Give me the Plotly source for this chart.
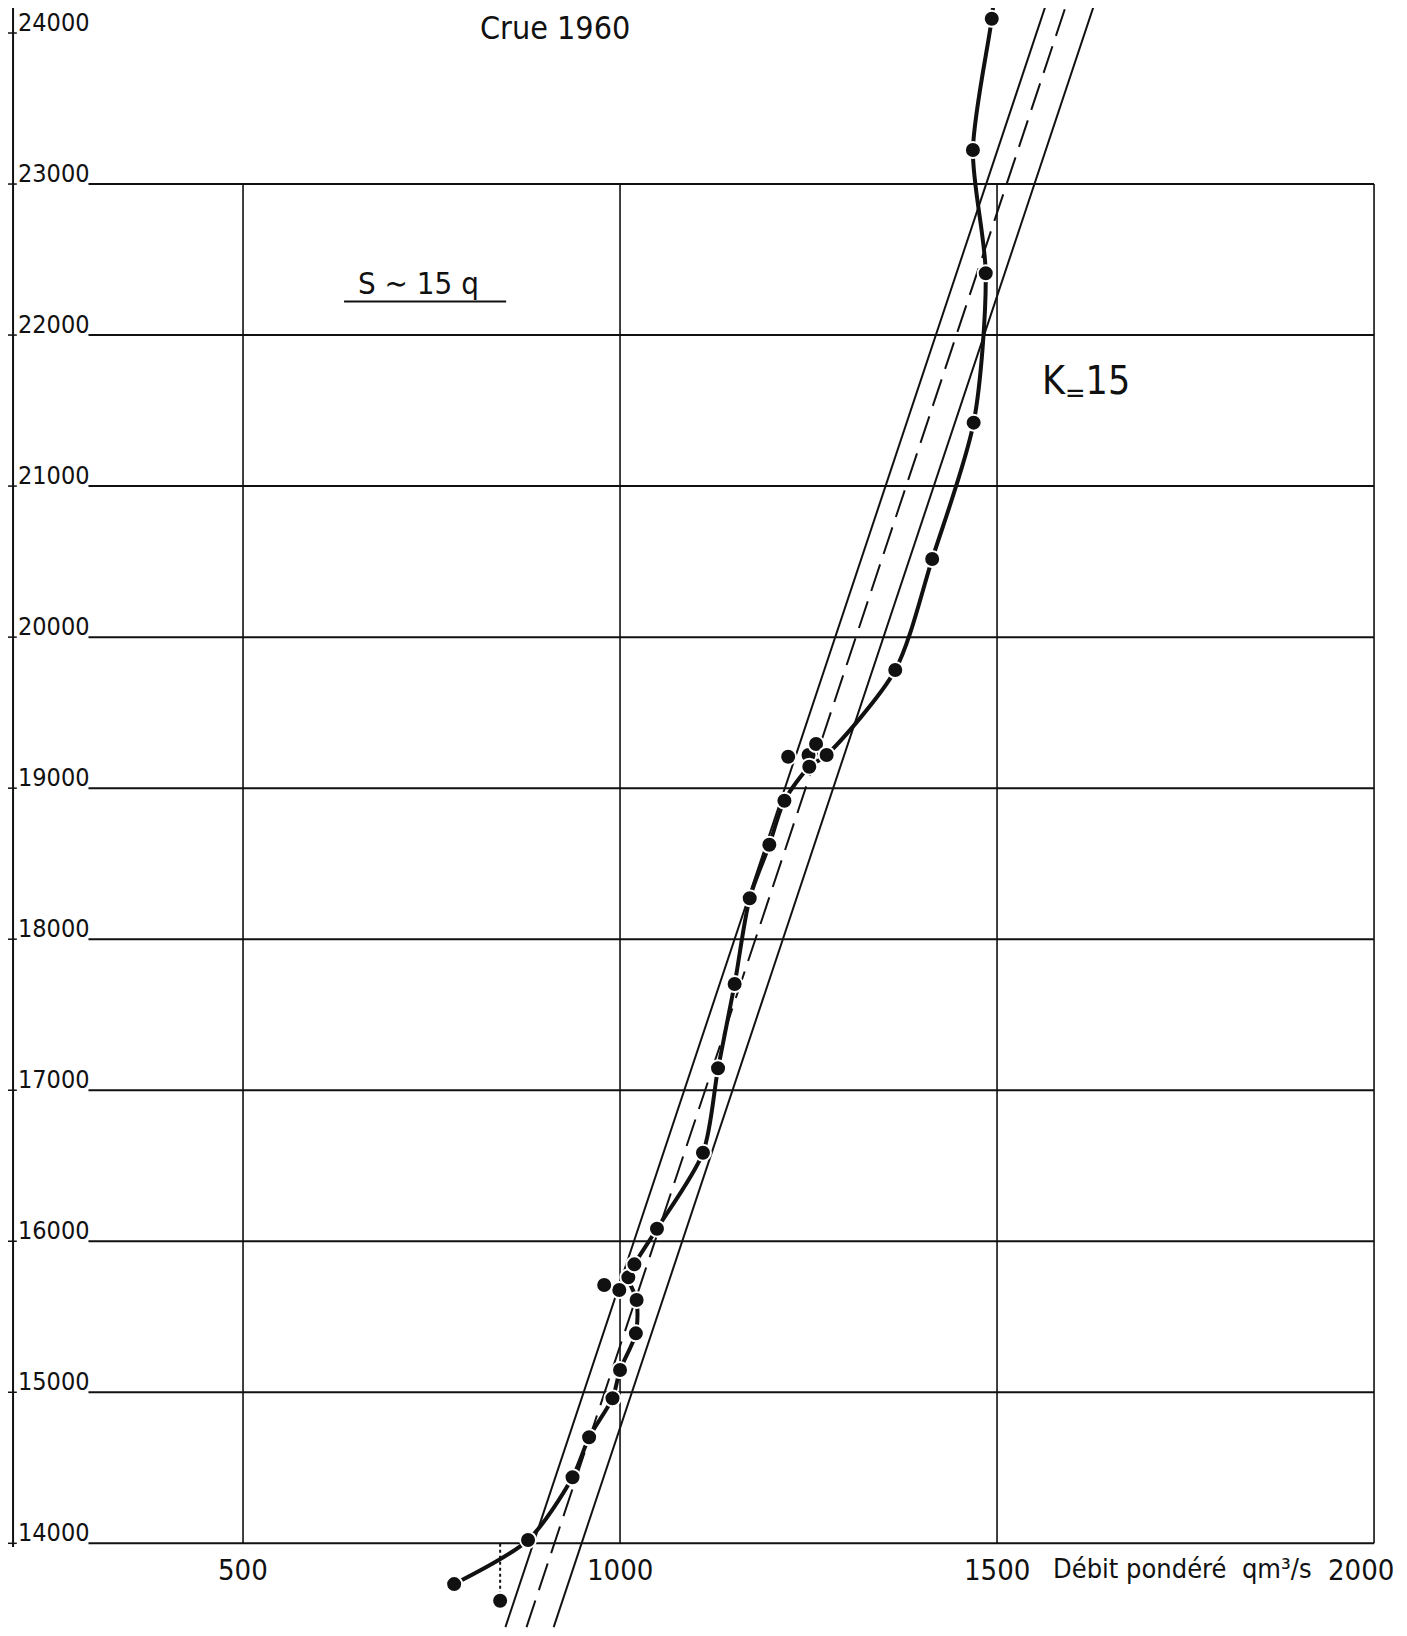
import plotly.graph_objects as go

q_points = [780, 841, 878, 937, 959, 990, 1000, 1021, 1022, 1011, 999, 979, 1019, 1049,
            1110, 1130, 1152, 1172, 1198, 1218, 1223, 1250, 1251, 1260, 1274, 1365, 1414,
            1469, 1485, 1468, 1493]
s_points = [13730, 13620, 14022, 14437, 14702, 14960, 15147, 15390, 15611, 15761, 15677, 15710, 15847, 16083,
            16586, 17145, 17703, 18271, 18625, 18917, 19208, 19220, 19142, 19292, 19220, 19782, 20517,
            21420, 22409, 23225, 24094]

# courbe tracee a la main (passe par une partie des points, continue au-dela du cadre)
curve_q = [780, 878, 937, 959, 990, 1000, 1021, 1022, 1011, 1019, 1049, 1110, 1130, 1152,
           1172, 1198, 1218, 1251, 1274, 1365, 1414, 1469, 1485, 1468, 1493, 1497]
curve_s = [13730, 14022, 14437, 14702, 14960, 15147, 15390, 15611, 15761, 15847, 16083, 16586, 17145, 17703,
           18271, 18625, 18917, 19142, 19220, 19782, 20517, 21420, 22409, 23225, 24094, 24300]

# droites de pente K = 15 (extremites)
band_left_q = [848, 1579]
band_left_s = [13445, 24400]
band_mid_q = [876, 1606]
band_mid_s = [13445, 24400]
band_right_q = [912, 1643]
band_right_s = [13445, 24400]

# point isole relie a l'axe 14000 en pointille
drop_q = [841, 841]
drop_s = [13620, 14000]

# quadrillage et graduations
grid_q = [500, 1000, 1500, 2000]
grid_s = [14000, 15000, 16000, 17000, 18000, 19000, 20000, 21000, 22000, 23000]
y_labels = [14000, 15000, 16000, 17000, 18000, 19000, 20000, 21000, 22000, 23000, 24000]
x_labels = [500, 1000, 1500, 2000]

FONT = "DejaVu Sans Condensed, Liberation Sans, sans-serif"
INK = "#111111"

fig = go.Figure()

# quadrillage horizontal
hx, hy = [], []
for s in grid_s:
    hx += [295, 2000, None]
    hy += [s, s, None]
fig.add_trace(go.Scatter(x=hx, y=hy, mode="lines", line=dict(color=INK, width=2), hoverinfo="skip"))

# quadrillage vertical
vx, vy = [], []
for q in grid_q:
    vx += [q, q, None]
    vy += [14000, 23000, None]
fig.add_trace(go.Scatter(x=vx, y=vy, mode="lines", line=dict(color=INK, width=1.6), hoverinfo="skip"))

# axe vertical et petits traits de graduation
fig.add_trace(go.Scatter(x=[195, 195], y=[13975, 24400], mode="lines",
                         line=dict(color=INK, width=2), hoverinfo="skip"))
tx, ty = [], []
for s in y_labels:
    tx += [188, 200, None]
    ty += [s, s, None]
fig.add_trace(go.Scatter(x=tx, y=ty, mode="lines", line=dict(color=INK, width=1.5), hoverinfo="skip"))

# droites de pente 15
for bq, bs, dash in [(band_left_q, band_left_s, "solid"),
                     (band_mid_q, band_mid_s, "28px,11px"),
                     (band_right_q, band_right_s, "solid")]:
    fig.add_trace(go.Scatter(x=bq, y=bs, mode="lines",
                             line=dict(color=INK, width=2, dash=dash), hoverinfo="skip"))

# pointille vertical
fig.add_trace(go.Scatter(x=drop_q, y=drop_s, mode="lines",
                         line=dict(color=INK, width=2, dash="dot"), hoverinfo="skip"))

# courbe
fig.add_trace(go.Scatter(x=curve_q, y=curve_s, mode="lines",
                         line=dict(color=INK, width=4, shape="spline", smoothing=0.8),
                         hoverinfo="skip"))

# points
fig.add_trace(go.Scatter(x=q_points, y=s_points, mode="markers",
                         marker=dict(color=INK, size=16, line=dict(color="white", width=2))))

# etiquettes des axes
for s in y_labels:
    fig.add_annotation(x=199, y=s, text=str(s), showarrow=False, xanchor="left", yanchor="bottom",
                       yshift=-6, font=dict(family=FONT, size=25, color=INK))
for q in x_labels[:-1]:
    fig.add_annotation(x=q, y=14000, text=str(q), showarrow=False, xanchor="center", yanchor="top",
                       yshift=-8, font=dict(family=FONT, size=29, color=INK))
# le dernier libelle touche le bord droit
fig.add_annotation(x=x_labels[-1], y=14000, text=str(x_labels[-1]), showarrow=False,
                   xanchor="right", yanchor="top", yshift=-8, xshift=22,
                   font=dict(family=FONT, size=29, color=INK))

fig.add_annotation(x=1572, y=14000, text="Débit pondéré  qm³/s", showarrow=False,
                   xanchor="left", yanchor="top", yshift=-8, font=dict(family=FONT, size=27, color=INK))
fig.add_annotation(x=914, y=24033, text="Crue 1960", showarrow=False, xanchor="center", yanchor="middle",
                   font=dict(family=FONT, size=32, color=INK))
fig.add_annotation(x=733, y=22345, text="S ∼ 15 q", showarrow=False, xanchor="center", yanchor="middle",
                   font=dict(family=FONT, size=31, color=INK))
fig.add_annotation(x=1557, y=21683, text="K<sub>=</sub>15", showarrow=False, xanchor="left", yanchor="middle",
                   font=dict(family=FONT, size=39, color=INK))
fig.add_shape(type="line", x0=634, x1=849, y0=22222, y1=22222, line=dict(color=INK, width=2))

# la page ajoute une marge de 8 px autour : la figure fait 1391 x 1620
fig.update_layout(
    width=1391,
    height=1620,
    autosize=False,
    margin=dict(l=0, r=0, t=0, b=0),
    showlegend=False,
    plot_bgcolor="white",
    paper_bgcolor="white",
    xaxis=dict(range=[188.3, 2033.1], visible=False, fixedrange=True),
    yaxis=dict(range=[13439.2, 24165.6], visible=False, fixedrange=True),
)

fig.write_html("out.html")
